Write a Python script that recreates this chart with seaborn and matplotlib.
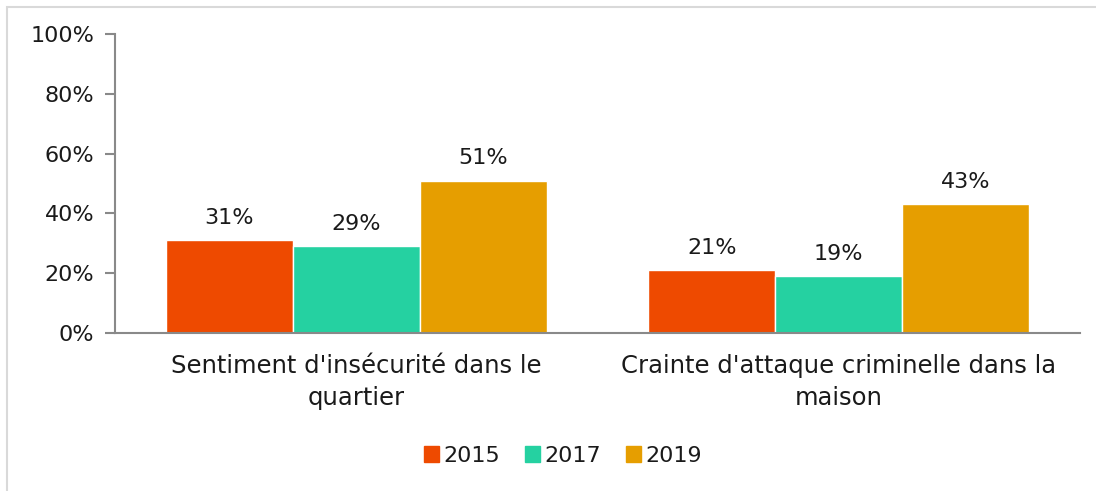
import matplotlib.pyplot as plt
import matplotlib.patches as mpatches
import pandas as pd
import seaborn as sns

# Data.
categories = [
    "Sentiment d'insécurité dans le\nquartier",
    "Crainte d'attaque criminelle dans la\nmaison",
]
years = ["2015", "2017", "2019"]
values_2015 = [31, 21]
values_2017 = [29, 19]
values_2019 = [51, 43]
colors = ["#EE4A00", "#25D1A1", "#E69E00"]

data = pd.DataFrame({
    "category": categories * 3,
    "year": [y for y in years for _ in categories],
    "value": values_2015 + values_2017 + values_2019,
})

sns.set_theme(style="white")
plt.rcParams["font.family"] = ["DejaVu Sans"]
FS = 16
TXT = "#1a1a1a"

fig = plt.figure(figsize=(10.96, 4.91), dpi=100)
ax = fig.add_axes([115 / 1096, 1 - 333 / 491, (1080 - 115) / 1096, 299 / 491])

sns.barplot(
    data=data,
    x="category",
    y="value",
    hue="year",
    palette=colors,
    width=0.79,
    saturation=1,
    legend=False,
    ax=ax,
)

# Value labels above bars.
for container in ax.containers:
    ax.bar_label(container, labels=[f"{v:.0f}%" for v in container.datavalues],
                 padding=9, fontsize=FS, color=TXT)

ax.set_ylim(0, 100)
ax.set_xlim(-0.5, 1.5)
ax.set_yticks(range(0, 101, 20))
ax.set_yticklabels([f"{v}%" for v in range(0, 101, 20)], fontsize=FS, color=TXT)
ax.set_xticks([-0.5, 0.5, 1.5])
ax.set_xticklabels([])
ax.set_xticks([0, 1], minor=True)
ax.set_xticklabels(categories, minor=True, fontsize=17.5, color=TXT, linespacing=1.45)
ax.tick_params(axis="x", which="minor", length=0, pad=15)
ax.tick_params(axis="x", which="major", length=7, width=1.5, color="#898989", direction="out")
ax.tick_params(axis="y", length=7, width=1.5, color="#898989", direction="out", pad=8, left=True)
ax.set_xlabel("")
ax.set_ylabel("")

for side in ["top", "right"]:
    ax.spines[side].set_visible(False)
for side in ["left", "bottom"]:
    ax.spines[side].set_color("#898989")
    ax.spines[side].set_linewidth(1.5)

handles = [mpatches.Patch(color=c, label=y) for c, y in zip(colors, years)]
fig.legend(
    handles=handles,
    loc="center",
    bbox_to_anchor=(563 / 1096, 1 - 456 / 491),
    ncol=3,
    frameon=False,
    fontsize=FS,
    labelcolor=TXT,
    handlelength=0.7,
    handleheight=0.7,
    handletextpad=0.2,
    columnspacing=1.1,
)

# Outer chart border.
fig.patches.append(mpatches.Rectangle(
    (7 / 1096, -0.01), 1.1, 1 - 7 / 491 + 0.01,
    transform=fig.transFigure, fill=False, edgecolor="#d9d9d9", linewidth=1.5,
))

fig.savefig("out.png", dpi=100)
